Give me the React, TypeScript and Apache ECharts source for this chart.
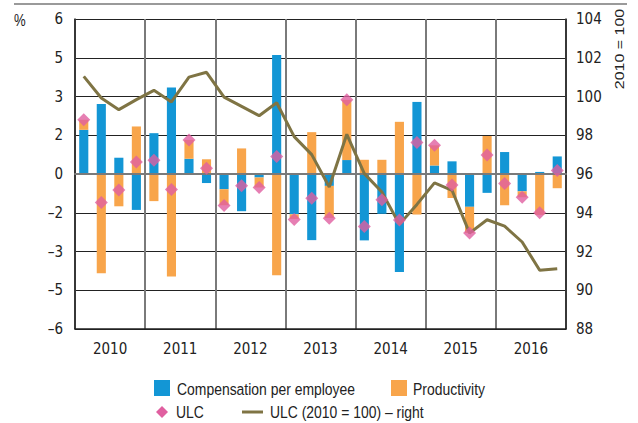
import React, { useEffect, useRef } from "react";
import * as echarts from "echarts";

const quarters: string[] = [
  "2010Q1", "2010Q2", "2010Q3", "2010Q4",
  "2011Q1", "2011Q2", "2011Q3", "2011Q4",
  "2012Q1", "2012Q2", "2012Q3", "2012Q4",
  "2013Q1", "2013Q2", "2013Q3", "2013Q4",
  "2014Q1", "2014Q2", "2014Q3", "2014Q4",
  "2015Q1", "2015Q2", "2015Q3", "2015Q4",
  "2016Q1", "2016Q2", "2016Q3", "2016Q4",
];
const years: string[] = ["2010", "2011", "2012", "2013", "2014", "2015", "2016"];

const compensation: number[] = [
  1.71, 2.71, 0.63, -1.39,
  1.58, 3.35, 0.59, -0.35,
  -0.59, -1.44, -0.14, 4.61,
  -1.56, -2.56, -0.46, 0.54,
  -2.57, -1.54, -3.79, 2.79,
  0.33, 0.49, -1.27, -0.73,
  0.85, -0.67, 0.08, 0.68,
];
const productivity: number[] = [
  0.39, -3.84, -1.25, 1.84,
  -1.05, -3.97, 0.73, 0.57,
  -0.62, 0.99, -0.38, -3.92,
  -0.18, 1.62, -1.24, 2.33,
  0.55, 0.55, 2.02, -1.57,
  0.78, -0.93, -1.01, 1.47,
  -1.21, -0.23, -1.58, -0.55,
];
const ulc: number[] = [
  2.10, -1.10, -0.62, 0.46,
  0.53, -0.60, 1.32, 0.22,
  -1.22, -0.45, -0.52, 0.68,
  -1.76, -0.94, -1.71, 2.87,
  -2.03, -1.00, -1.78, 1.22,
  1.11, -0.43, -2.28, 0.74,
  -0.37, -0.90, -1.50, 0.14,
];
const ulcIndex: number[] = [
  101.04, 99.92, 99.32, 99.84,
  100.32, 99.72, 101.0, 101.25,
  99.97, 99.49, 99.01, 99.68,
  97.93, 97.0, 95.33, 98.05,
  96.02, 95.07, 93.40, 94.43,
  95.54, 95.16, 92.95, 93.64,
  93.31, 92.49, 91.03, 91.11,
];

const AXIS_FONT = "'DejaVu Sans Condensed', 'Liberation Sans Narrow', sans-serif";
const TEXT_FONT = "'Liberation Sans', Arial, sans-serif";
const NARROW = 0.82;
const BLUE = "#1396D5";
const ORANGE = "#F8A54B";
const PINK = "#E05FA0";
const OLIVE = "#7F7444";
const TXT = "#222";

const SERIES_NAMES = [
  "Compensation per employee",
  "Productivity",
  "ULC",
  "ULC (2010 = 100) – right",
];

function label(text: string, x: number, y: number, extra: any = {}) {
  return {
    type: "text",
    x,
    y,
    scaleX: NARROW,
    style: {
      text,
      fill: TXT,
      font: `17px ${TEXT_FONT}`,
      verticalAlign: "middle",
      ...(extra.style || {}),
    },
    ...(extra.el || {}),
  };
}

export default function App() {
  const ref = useRef<HTMLDivElement>(null);

  useEffect(() => {
    if (!ref.current) return;
    const chart = echarts.init(ref.current, undefined, { renderer: "svg" });
    const fmt = (v: number) => {
      const s = Math.abs(v).toFixed(0);
      return v < 0 ? "–" + s : s;
    };
    chart.setOption({
      animation: false,
      textStyle: { fontFamily: AXIS_FONT },
      grid: { left: 75, right: 72, top: 19, bottom: 94, containLabel: false },
      xAxis: [
        {
          type: "category",
          data: quarters,
          boundaryGap: true,
          axisLine: { show: true, onZero: true, onZeroAxisIndex: 0, lineStyle: { color: "#7a7a7a", width: 2 } },
          axisTick: { show: false },
          axisLabel: { show: false },
          splitLine: { show: false },
          z: 3,
        },
        {
          type: "category",
          data: years,
          position: "bottom",
          boundaryGap: true,
          axisLine: { show: true, onZero: false, lineStyle: { color: "#222", width: 1.5 } },
          axisTick: { show: false },
          axisLabel: { show: true, color: TXT, fontSize: 15, fontFamily: AXIS_FONT, margin: 12 },
          splitLine: { show: true, lineStyle: { color: "#7a7a7a", width: 2 } },
        },
      ],
      yAxis: [
        {
          type: "value",
          min: -6,
          max: 6,
          interval: 1.5,
          axisLine: { show: true, lineStyle: { color: "#222", width: 1.5 } },
          axisTick: { show: false },
          axisLabel: { color: TXT, fontSize: 15, fontFamily: AXIS_FONT, margin: 12, formatter: fmt },
          splitLine: { show: true, lineStyle: { color: "#222", width: 1 } },
        },
        {
          type: "value",
          min: 88,
          max: 104,
          interval: 2,
          position: "right",
          axisLine: { show: true, lineStyle: { color: "#222", width: 1.5 } },
          axisTick: { show: false },
          axisLabel: { color: TXT, fontSize: 15, fontFamily: AXIS_FONT, margin: 10 },
          splitLine: { show: false },
        },
      ],
      series: [
        {
          name: SERIES_NAMES[0],
          type: "bar",
          stack: "total",
          xAxisIndex: 0,
          yAxisIndex: 0,
          barWidth: "52%",
          data: compensation,
          itemStyle: { color: BLUE },
          z: 2,
        },
        {
          name: SERIES_NAMES[1],
          type: "bar",
          stack: "total",
          xAxisIndex: 0,
          yAxisIndex: 0,
          barWidth: "52%",
          data: productivity,
          itemStyle: { color: ORANGE },
          z: 2,
        },
        {
          name: SERIES_NAMES[3],
          type: "line",
          xAxisIndex: 0,
          yAxisIndex: 1,
          data: ulcIndex,
          symbol: "none",
          lineStyle: { color: OLIVE, width: 3 },
          z: 4,
        },
        {
          name: SERIES_NAMES[2],
          type: "scatter",
          xAxisIndex: 0,
          yAxisIndex: 0,
          data: ulc,
          symbol: "diamond",
          symbolSize: [13, 13],
          itemStyle: { color: PINK },
          z: 5,
        },
      ],
      graphic: [
        {
          type: "line",
          shape: { x1: 14, y1: 4, x2: 627, y2: 4 },
          style: { stroke: "#9a9a9a", lineWidth: 2 },
        },
        label("%", 14, 21, { style: { font: `16px ${TEXT_FONT}` } }),
        label("2010 = 100", 620, 49, {
          style: { align: "center", font: `16px ${TEXT_FONT}` },
          el: { rotation: Math.PI / 2, scaleX: 1, scaleY: NARROW },
        }),
        // legend row 1
        {
          type: "rect",
          shape: { x: 154, y: 380, width: 16, height: 16 },
          style: { fill: BLUE },
        },
        label(SERIES_NAMES[0], 177, 389),
        {
          type: "rect",
          shape: { x: 391, y: 380, width: 16, height: 16 },
          style: { fill: ORANGE },
        },
        label(SERIES_NAMES[1], 413, 389),
        // legend row 2
        {
          type: "polygon",
          shape: { points: [[162, 406], [168, 412], [162, 418], [156, 412]] },
          style: { fill: PINK },
        },
        label(SERIES_NAMES[2], 176, 412),
        {
          type: "line",
          shape: { x1: 242, y1: 412, x2: 263, y2: 412 },
          style: { stroke: OLIVE, lineWidth: 3 },
        },
        label(SERIES_NAMES[3], 270, 412),
      ],
    });
    return () => chart.dispose();
  }, []);

  return (
    <div
      ref={ref}
      style={{ width: 638, height: 423, position: "absolute", left: 0, top: 0 }}
    />
  );
}
